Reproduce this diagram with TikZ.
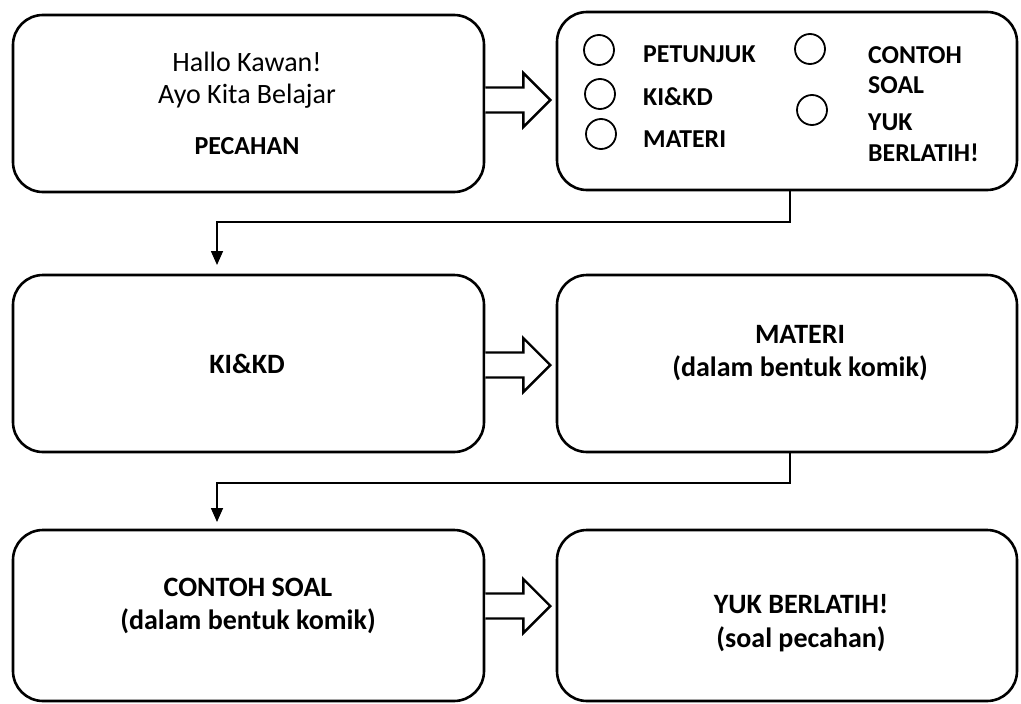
\documentclass[tikz,border=0pt]{standalone}
\usepackage{fontspec}
\setmainfont{Carlito}
\usetikzlibrary{arrows.meta,calc}
\begin{document}
\begin{tikzpicture}[x=1pt,y=-1pt,
  box/.style={draw,line width=2.6pt,rounded corners=30pt,inner sep=0pt},
  txt/.style={font=\fontsize{28}{33}\selectfont,align=center,inner sep=0pt},
  btxt/.style={font=\fontsize{28}{33.5}\selectfont\bfseries,align=center,inner sep=0pt},
  ltxt/.style={font=\fontsize{25.8}{30}\selectfont\bfseries,anchor=west,inner sep=0pt},
  opt/.style={draw,circle,line width=1.8pt,minimum size=30pt,inner sep=0pt},
  conn/.style={line width=1.6pt,-{Triangle[length=14pt,width=12pt]}},
  barrow/.style={draw,line width=2.4pt,fill=white,line join=miter}]
\useasboundingbox (0,0) rectangle (1021,704);
% boxes
\node[box,minimum width=471pt,minimum height=177pt] (b1) at (248.5,103.5) {};
\node[box,minimum width=460pt,minimum height=178pt] (b2) at (787,101) {};
\node[box,minimum width=471pt,minimum height=177pt] (b3) at (248.5,363.5) {};
\node[box,minimum width=460pt,minimum height=177pt] (b4) at (787,363.5) {};
\node[box,minimum width=471pt,minimum height=171pt] (b5) at (248.5,615.5) {};
\node[box,minimum width=460pt,minimum height=171pt] (b6) at (787,615.5) {};
% box 1 text
\node[txt] (t1a) at (247,62) {Hallo Kawan!};
\node[txt] (t1b) at (247,96) {Ayo Kita Belajar};
\node[btxt,font=\fontsize{26}{30}\selectfont\bfseries] (t1c) at (247,146) {PECAHAN};
% box 2 contents
\node[opt] (o1) at (599,50) {};
\node[opt] (o2) at (600,94) {};
\node[opt] (o3) at (601,134) {};
\node[opt] (o4) at (810,49) {};
\node[opt] (o5) at (812,110) {};
\node[ltxt] (l1) at (643,54) {PETUNJUK};
\node[ltxt] (l2) at (643,97) {KI\&KD};
\node[ltxt] (l3) at (643,139) {MATERI};
\node[ltxt] (l4) at (868,55) {CONTOH};
\node[ltxt] (l5) at (868,85) {SOAL};
\node[ltxt] (l6) at (868,122) {YUK};
\node[ltxt] (l7) at (868,153) {BERLATIH!};
% other texts
\node[btxt] (t3) at (247,364) {KI\&KD};
\node[btxt] (t4) at (800,353) {MATERI\\(dalam bentuk komik)};
\node[btxt] (t5) at (248,606) {CONTOH SOAL\\(dalam bentuk komik)};
\node[btxt] (t6) at (801,623) {YUK BERLATIH!\\(soal pecahan)};
% block arrows
\foreach \a/\b/\y in {b1/b2/100,b3/b4/365,b5/b6/606}{
  \draw[barrow] (\a.east |- 0,\y) ++(0,-12.5) -- ++(38,0) -- ++(0,-14.5)
    -- ++(27,27) -- ++(-27,27) -- ++(0,-14.5) -- ++(-38,0);
}
% connectors
\coordinate (m1) at (790,222);
\coordinate (e1) at (217,265);
\coordinate (m2) at (790,483);
\coordinate (e2) at (217,522);
\draw[conn] (b2.south -| m1) -- (m1) -| (e1);
\draw[conn] (b4.south -| m2) -- (m2) -| (e2);
\end{tikzpicture}
\end{document}
